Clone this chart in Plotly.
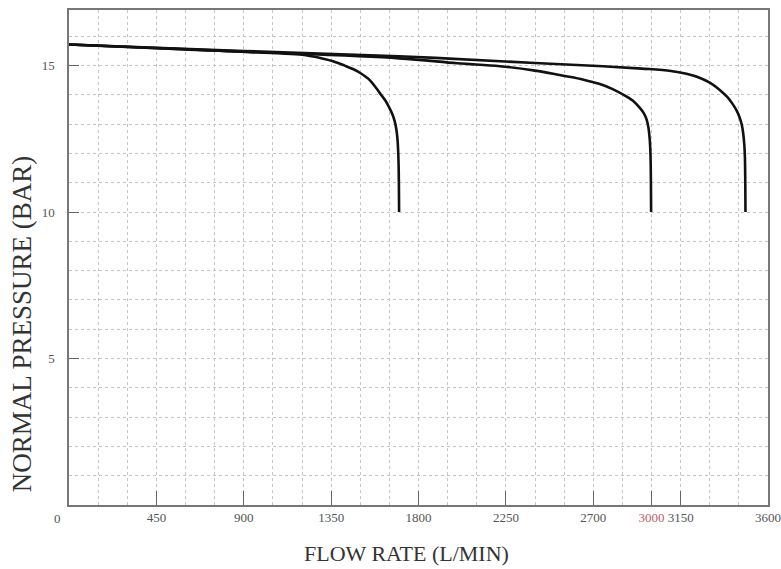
import plotly.graph_objects as go

# Flow rate (L/min) and normal pressure (bar) for three curves
flow_a = [0, 600, 1200, 1250, 1300, 1360, 1420, 1470, 1500, 1550, 1600, 1630, 1650, 1665, 1678, 1686, 1691, 1695, 1698, 1700]
pres_a = [15.72, 15.55, 15.37, 15.32, 15.25, 15.15, 15.0, 14.86, 14.75, 14.5, 14.07, 13.8, 13.56, 13.35, 13.09, 12.82, 12.54, 12.13, 11.45, 10.0]

flow_b = [0, 900, 1700, 2000, 2220, 2400, 2560, 2650, 2730, 2800, 2870, 2910, 2940, 2960, 2975, 2985, 2991, 2995, 2997, 2998]
pres_b = [15.72, 15.48, 15.25, 15.08, 14.98, 14.83, 14.64, 14.52, 14.38, 14.2, 13.95, 13.77, 13.56, 13.38, 13.16, 12.85, 12.47, 11.9, 11.0, 10.0]

flow_c = [0, 900, 1700, 2400, 2750, 2950, 3100, 3180, 3250, 3300, 3350, 3390, 3420, 3440, 3455, 3465, 3472, 3478, 3481, 3483, 3484]
pres_c = [15.72, 15.5, 15.32, 15.09, 14.98, 14.9, 14.82, 14.72, 14.58, 14.42, 14.18, 13.93, 13.67, 13.45, 13.21, 12.98, 12.7, 12.3, 11.9, 11.0, 10.0]

x_tickvals = [450, 900, 1350, 1800, 2250, 2700, 3000, 3150, 3600]
x_ticktext = ["450", "900", "1350", "1800", "2250", "2700",
              "<span style='color:#b8606e'>3000</span>", "3150", "3600"]
y_tickvals = [5, 10, 15]
y_ticktext = ["5", "10", "15"]

x_title = "FLOW RATE (L/MIN)"
y_title = "NORMAL PRESSURE (BAR)"

font_family = "Liberation Serif, Times New Roman, serif"

fig = go.Figure()
for fx, py in [(flow_a, pres_a), (flow_b, pres_b), (flow_c, pres_c)]:
    fig.add_trace(go.Scatter(x=fx, y=py, mode="lines",
                             line=dict(color="#111111", width=2.6, shape="spline", smoothing=1.0),
                             showlegend=False, hoverinfo="skip"))

grid_col = "#c4c4c4"
fig.update_xaxes(
    range=[0, 3600], tickmode="array", tickvals=x_tickvals, ticktext=x_ticktext,
    ticks="inside", ticklen=14, tickwidth=1.3, tickcolor="#666",
    showgrid=True, gridcolor=grid_col, griddash="dot", gridwidth=1,
    minor=dict(tickmode="linear", tick0=0, dtick=150, showgrid=True,
               gridcolor=grid_col, griddash="dot", gridwidth=1, ticks=""),
    showline=True, linecolor="#777", linewidth=1.5, mirror=True,
    zeroline=False, automargin=False,
    tickfont=dict(family=font_family, size=13, color="#555"),
)
fig.update_yaxes(
    range=[0, 16.9], tickmode="array", tickvals=y_tickvals, ticktext=y_ticktext,
    ticks="inside", ticklen=10, tickwidth=1.3, tickcolor="#666",
    showgrid=True, gridcolor=grid_col, griddash="dot", gridwidth=1,
    minor=dict(tickmode="linear", tick0=0, dtick=1, showgrid=True,
               gridcolor=grid_col, griddash="dot", gridwidth=1, ticks=""),
    showline=True, linecolor="#777", linewidth=1.5, mirror=True,
    zeroline=False, automargin=False, ticklabelstandoff=10,
    tickfont=dict(family=font_family, size=13, color="#555"),
)

# origin label and axis titles
fig.add_annotation(x=0, y=0, xref="x", yref="y", text="0", showarrow=False,
                   xshift=-12, yshift=-13,
                   font=dict(family=font_family, size=13, color="#555"))
fig.add_annotation(x=0.4835, y=-0.097, xref="paper", yref="paper", text=x_title,
                   showarrow=False, xanchor="center", yanchor="middle",
                   font=dict(family=font_family, size=22, color="#333"))
fig.add_annotation(x=-0.0672, y=0.365, xref="paper", yref="paper", text=y_title,
                   showarrow=False, xanchor="center", yanchor="middle", textangle=-90,
                   font=dict(family=font_family, size=27, color="#333"))

fig.update_layout(
    width=781, height=569,
    margin=dict(l=69, r=13, t=10, b=64),
    plot_bgcolor="white", paper_bgcolor="white",
)

fig.write_html("out.html",
               config={"displayModeBar": False},
               post_script="document.body.style.margin='0';document.body.style.overflow='hidden';")
